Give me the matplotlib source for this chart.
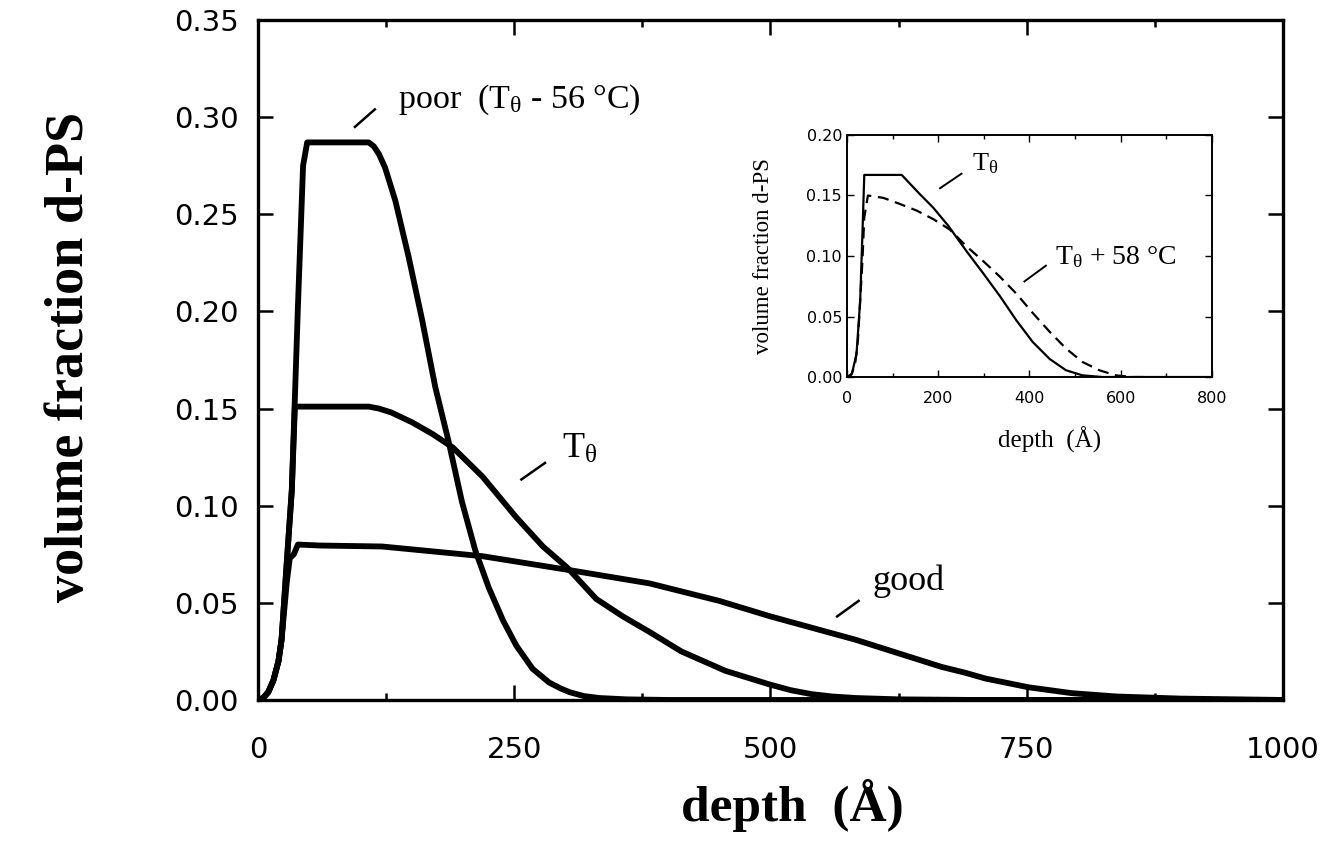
import numpy as np
import matplotlib
matplotlib.use('Agg')
import matplotlib.pyplot as plt
from matplotlib.ticker import MultipleLocator

plt.rcParams['mathtext.fontset'] = 'custom'
plt.rcParams['mathtext.rm'] = 'Liberation Serif'
plt.rcParams['mathtext.it'] = 'Liberation Serif'

# main plot: depth profiles
poor_x = [0, 5, 10, 15, 20, 23, 28, 33, 39, 44, 48, 108, 113, 118, 124, 134, 147, 160, 173, 186,
          199, 212, 225, 239, 252, 268, 284, 295, 304, 318, 333, 360, 400, 1000]
poor_y = [0, 0.001, 0.004, 0.010, 0.020, 0.031, 0.070, 0.108, 0.203, 0.275, 0.287, 0.287, 0.285,
          0.281, 0.274, 0.257, 0.228, 0.196, 0.161, 0.133, 0.102, 0.077, 0.058, 0.041, 0.028,
          0.016, 0.009, 0.006, 0.004, 0.002, 0.001, 0.0003, 0, 0]

theta_x = [0, 5, 10, 15, 20, 23, 28, 33, 36, 108, 118, 130, 150, 170, 190, 219, 252, 278, 302,
           330, 356, 382, 413, 456, 499, 520, 540, 560, 583, 626, 700, 1000]
theta_y = [0, 0.001, 0.004, 0.010, 0.020, 0.031, 0.070, 0.108, 0.151, 0.151, 0.150, 0.148, 0.143,
           0.137, 0.130, 0.115, 0.094, 0.079, 0.068, 0.052, 0.043, 0.035, 0.025, 0.015, 0.008,
           0.005, 0.003, 0.0018, 0.001, 0.0003, 0, 0]

good_x = [0, 5, 10, 15, 20, 23, 28, 31, 35, 39, 60, 121, 219, 302, 382, 450, 500, 583, 625, 667,
          690, 710, 752, 794, 837, 900, 1000]
good_y = [0, 0.001, 0.004, 0.010, 0.020, 0.031, 0.060, 0.073, 0.075, 0.080, 0.0795, 0.079, 0.074,
          0.067, 0.060, 0.051, 0.043, 0.031, 0.024, 0.017, 0.014, 0.011, 0.0065, 0.0035, 0.0018,
          0.0007, 0]

# inset: T_theta and T_theta + 58 C
ins_solid_x = [0, 5, 11, 21, 29, 34, 38, 120, 160, 189, 222, 262, 298, 335, 371, 407, 444, 480,
               516, 560, 800]
ins_solid_y = [0, 0.001, 0.003, 0.019, 0.063, 0.119, 0.167, 0.167, 0.151, 0.140, 0.125, 0.104,
               0.086, 0.067, 0.047, 0.029, 0.015, 0.0056, 0.0014, 0, 0]
ins_dash_x = [0, 10, 18, 24, 29, 34, 38, 46, 80, 116, 153, 189, 225, 262, 298, 335, 371, 407, 444,
              480, 516, 553, 589, 625, 650]
ins_dash_y = [0, 0.002, 0.011, 0.030, 0.063, 0.0965, 0.132, 0.150, 0.148, 0.143, 0.1375, 0.1305,
              0.122, 0.108, 0.096, 0.083, 0.069, 0.053, 0.0375, 0.0236, 0.0125, 0.0056, 0.0014, 0, 0]

main_xticks = [0, 250, 500, 750, 1000]
main_yticks = [0.00, 0.05, 0.10, 0.15, 0.20, 0.25, 0.30, 0.35]
ins_xticks = [0, 200, 400, 600, 800]
ins_yticks = [0.00, 0.05, 0.10, 0.15, 0.20]

serif = 'Liberation Serif'
sans = 'DejaVu Sans'

fig = plt.figure(figsize=(13.25, 8.41), dpi=100)
ax = fig.add_axes([0.1947, 0.1677, 0.7736, 0.8085])

for xs, ys in [(poor_x, poor_y), (theta_x, theta_y), (good_x, good_y)]:
    ax.plot(xs, ys, color='black', lw=4.2, solid_joinstyle='round', solid_capstyle='round')

ax.set_xlim(0, 1000)
ax.set_ylim(0, 0.35)
ax.set_xticks(main_xticks)
ax.set_yticks(main_yticks)
ax.set_yticklabels(['%.2f' % v for v in main_yticks])
ax.xaxis.set_minor_locator(MultipleLocator(125))
ax.tick_params(which='both', direction='in', top=True, right=True, width=1.8)
ax.tick_params(which='major', length=11)
ax.tick_params(which='minor', length=5)
ax.tick_params(axis='x', pad=26)
ax.tick_params(axis='y', pad=14)
for lab in ax.get_xticklabels() + ax.get_yticklabels():
    lab.set_fontfamily(sans)
    lab.set_fontsize(21)
for sp in ax.spines.values():
    sp.set_linewidth(2.4)

fig.text(792 / 1325, 1 - 805 / 841, 'depth  (Å)', family=serif, weight='bold', fontsize=37,
         ha='center', va='center')
fig.text(70 / 1325, 1 - 357 / 841, 'volume fraction d-PS', family=serif, weight='bold',
         fontsize=39, ha='center', va='center', rotation=90)

# annotations on the main plot
ax.plot([94.6, 114], [0.295, 0.304], color='black', lw=1.8)
ax.text(137, 0.309, r'poor  (T$_{\mathrm{θ}}$ - 56 °C)', family=serif, fontsize=24.5,
        va='center', ha='left')
ax.plot([257, 280], [0.1135, 0.122], color='black', lw=1.8)
ax.text(297, 0.129, r'T$_{\mathrm{θ}}$', family=serif, fontsize=26, va='center', ha='left')
ax.plot([565, 586], [0.043, 0.051], color='black', lw=1.8)
ax.text(600, 0.061, 'good', family=serif, fontsize=26, va='center', ha='left')

# inset
ins = fig.add_axes([0.6392, 0.5517, 0.2755, 0.2878])
ins.plot(ins_solid_x, ins_solid_y, color='black', lw=1.6)
ins.plot(ins_dash_x, ins_dash_y, color='black', lw=1.6, ls=(0, (5, 3)))
ins.set_xlim(0, 800)
ins.set_ylim(0, 0.20)
ins.set_xticks(ins_xticks)
ins.set_yticks(ins_yticks)
ins.set_yticklabels(['%.2f' % v for v in ins_yticks])
ins.xaxis.set_minor_locator(MultipleLocator(100))
ins.tick_params(which='both', direction='in', top=True, right=True, width=1.0)
ins.tick_params(which='major', length=5)
ins.tick_params(which='minor', length=3)
ins.tick_params(axis='x', pad=10)
for lab in ins.get_xticklabels() + ins.get_yticklabels():
    lab.set_fontfamily(sans)
    lab.set_fontsize(11.5)
for sp in ins.spines.values():
    sp.set_linewidth(1.4)
ins.set_xlabel('depth  (Å)', family=serif, fontsize=18)
ins.set_ylabel('volume fraction d-PS', family=serif, fontsize=16.5)
ins.xaxis.set_label_coords(0.555, -0.205)
ins.yaxis.set_label_coords(-0.2, 0.5)

ins.plot([204, 251], [0.156, 0.168], color='black', lw=1.4)
ins.text(275, 0.176, r'T$_{\mathrm{θ}}$', family=serif, fontsize=19, va='center', ha='left')
ins.plot([389, 436], [0.079, 0.092], color='black', lw=1.4)
ins.text(455, 0.099, r'T$_{\mathrm{θ}}$ + 58 °C', family=serif, fontsize=20, va='center', ha='left')

fig.savefig('out.png', dpi=100)
